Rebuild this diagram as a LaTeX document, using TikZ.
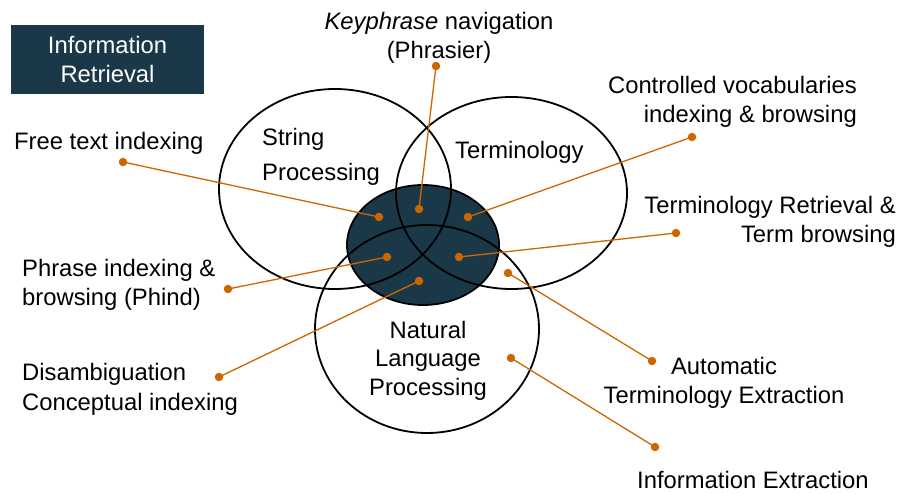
\documentclass[tikz,border=0pt]{standalone}
\usepackage{fontspec}
\setmainfont{Liberation Sans}
\definecolor{navy}{RGB}{27,56,73}
\definecolor{orng}{RGB}{204,102,0}
\begin{document}
\begin{tikzpicture}[x=1pt,y=-1pt,
  lbl/.style={inner sep=0pt, font=\fontsize{23.8}{29}\selectfont},
  dot/.style={circle, fill=orng, inner sep=0pt, minimum size=8.5pt},
  lead/.style={draw=orng, line width=1.3pt},
  ring/.style={draw=black, line width=1.8pt}]
\useasboundingbox (0,0) rectangle (903,494);

% title box
\node[fill=navy, text=white, lbl, minimum width=193pt, minimum height=69pt, align=center] (title) at (107.5,59.5) {Information\\Retrieval};

% venn
\fill[navy] (423,245) ellipse [x radius=76pt, y radius=60pt];
\draw[ring] (423,245) ellipse [x radius=76pt, y radius=60pt];
\draw[ring] (335,189) ellipse [x radius=116pt, y radius=100pt];
\draw[ring] (511.5,193) ellipse [x radius=115.5pt, y radius=96pt];
\draw[ring] (427,329) ellipse [x radius=112pt, y radius=104pt];

% circle labels
\node[lbl, font=\fontsize{23.8}{35}\selectfont, anchor=base west, align=left] (sp) at (262,181) {String\\Processing};
\node[lbl, anchor=base west] (term) at (455,159) {Terminology};
\node[lbl, anchor=base, align=center] (nlp) at (428,396) {Natural\\Language\\Processing};

% outer labels
\node[lbl, anchor=base west] (free) at (14,150) {Free text indexing};
\node[lbl, anchor=base west, align=left] (phrase) at (22,306) {Phrase indexing \&\\browsing (Phind)};
\node[lbl, anchor=base west, align=left] (disamb) at (22,410) {Disambiguation\\Conceptual indexing};
\node[lbl, anchor=base east, align=right] (ctrl) at (857,123) {Controlled vocabularies\\indexing \& browsing};
\node[lbl, anchor=base east, align=right] (tret) at (896,243) {Terminology Retrieval \&\\Term browsing};
\node[lbl, anchor=base, align=center] (ate) at (724,404) {Automatic\\Terminology Extraction};
\node[lbl, anchor=base west] (ie) at (637,489) {Information Extraction};
\node[lbl, anchor=base, align=center] (kp) at (439,59) {\textit{Keyphrase} navigation\\(Phrasier)};

% dots
\node[dot] (i1) at (379,217) {};
\node[dot] (i2) at (419,209) {};
\node[dot] (i3) at (468,217) {};
\node[dot] (i4) at (387,257) {};
\node[dot] (i5) at (459,257) {};
\node[dot] (i6) at (419,281) {};
\node[dot] (i7) at (508,273) {};
\node[dot] (i8) at (511,358) {};
\node[dot] (o1) at (123,162) {};
\node[dot] (o2) at (436,66) {};
\node[dot] (o3) at (692,137) {};
\node[dot] (o4) at (676,233) {};
\node[dot] (o5) at (228,289) {};
\node[dot] (o6) at (219,377) {};
\node[dot] (o7) at (652,361) {};
\node[dot] (o8) at (655,447) {};

% leaders
\draw[lead] (i1.center) -- (o1.center);
\draw[lead] (i2.center) -- (o2.center);
\draw[lead] (i3.center) -- (o3.center);
\draw[lead] (i5.center) -- (o4.center);
\draw[lead] (i4.center) -- (o5.center);
\draw[lead] (i6.center) -- (o6.center);
\draw[lead] (i7.center) -- (o7.center);
\draw[lead] (i8.center) -- (o8.center);
\end{tikzpicture}
\end{document}
